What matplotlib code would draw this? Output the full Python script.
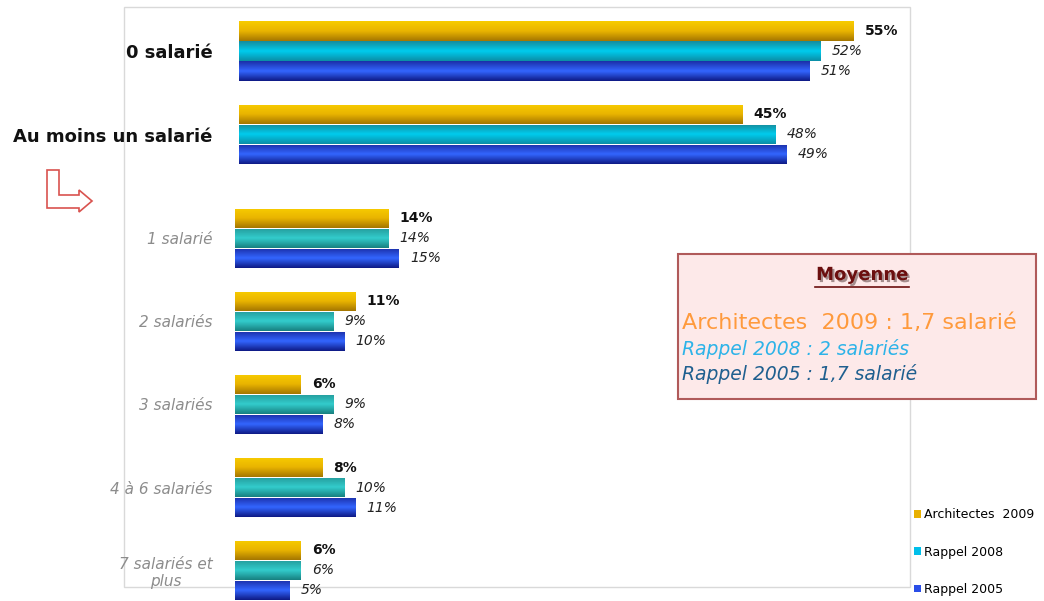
import matplotlib
matplotlib.use("Agg")
import matplotlib.pyplot as plt
import numpy as np
from matplotlib.colors import LinearSegmentedColormap
from matplotlib.patches import Patch, Polygon, Rectangle
from matplotlib.lines import Line2D
import matplotlib.patheffects as pe

# --- data -------------------------------------------------------------
series = ["Architectes  2009", "Rappel 2008", "Rappel 2005"]

top_categories = ["0 salarié", "Au moins un salarié"]
top_2009 = [55, 45]
top_2008 = [52, 48]
top_2005 = [51, 49]

detail_categories = ["1 salarié", "2 salariés", "3 salariés", "4 à 6 salariés",
                     "7 salariés et\nplus"]
detail_2009 = [14, 11, 6, 8, 6]
detail_2008 = [14, 9, 9, 10, 6]
detail_2005 = [15, 10, 8, 11, 5]

mean_title = "Moyenne"
mean_lines = ["Architectes  2009 : 1,7 salarié",
              "Rappel 2008 : 2 salariés",
              "Rappel 2005 : 1,7 salarié"]

# --- styles -----------------------------------------------------------
W, H = 1044, 601
YELLOW = ["#F8CC00", "#E9B400", "#A47600"]
CYAN = ["#158C9C", "#00CCEE", "#0B8EA6"]
TEAL = ["#249C9C", "#33CCCC", "#178080"]
BLUE = ["#1B2FA8", "#3366FF", "#0E1A85"]


def px_axes(fig, left, top, width, height):
    return fig.add_axes([left / W, 1 - (top + height) / H, width / W, height / H])


def fill_gradient(ax, bars, stops):
    cmap = LinearSegmentedColormap.from_list("g", stops)
    grad = np.linspace(0, 1, 64).reshape(-1, 1)
    for bar in bars:
        x0, y0 = bar.get_x(), bar.get_y()
        w, h = bar.get_width(), bar.get_height()
        im = ax.imshow(grad, extent=(x0, x0 + w, y0 + h, y0), aspect="auto",
                       cmap=cmap, zorder=3, interpolation="bilinear")
        im.set_clip_path(bar)


def grouped_bars(ax, cats, values, colors, h, pad_pts, label_size, cat_style):
    y = np.arange(len(cats))
    offsets = [-h, 0, h]
    for k, (vals, col) in enumerate(zip(values, colors)):
        bars = ax.barh(y + offsets[k], vals, height=h * 0.96, color=col[1],
                       edgecolor="none", zorder=2)
        fill_gradient(ax, bars, col)
        if k == 0:
            ax.bar_label(bars, fmt="%d%%", padding=8, fontsize=label_size,
                         fontweight="bold", color="#111111")
        else:
            ax.bar_label(bars, fmt="%d%%", padding=8, fontsize=label_size,
                         fontstyle="italic", color="#222222")
    ax.set_yticks(y)
    ax.set_yticklabels(cats, **cat_style)
    ax.tick_params(axis="y", length=0, pad=pad_pts)
    ax.set_xticks([])
    for s in ax.spines.values():
        s.set_visible(False)
    ax.patch.set_alpha(0)


fig = plt.figure(figsize=(W / 100, H / 100), dpi=100)

# light frame of the original chart area
fig.patches.append(Rectangle((124 / W, 1 - 587 / H), (910 - 124) / W, (587 - 7) / H,
                             transform=fig.transFigure, fill=False,
                             edgecolor="#D9D9D9", lw=1, zorder=-1))

# top chart: 0 / at least one employee
ax1 = px_axes(fig, 239, 9.25, 661, 167)
grouped_bars(ax1, top_categories, [top_2009, top_2008, top_2005],
             [YELLOW, CYAN, BLUE], 20 / 83.5, 19, 10,
             dict(fontsize=13, fontweight="bold", color="#111111"))
ax1.set_xlim(0, 661 / 11.18)
ax1.set_ylim(1.5, -0.5)

# detail chart
ax2 = px_axes(fig, 235, 197, 661, 415)
grouped_bars(ax2, detail_categories, [detail_2009, detail_2008, detail_2005],
             [YELLOW, TEAL, BLUE], 20 / 83, 16, 10,
             dict(fontsize=11, fontstyle="italic", color="#8C8C8C"))
for lab in ax2.get_yticklabels():
    lab.set_multialignment("center")
ax2.set_xlim(0, 661 / 10.93)
ax2.set_ylim(4.5, -0.5)

# red arrow
arrow_px = [(47, 170), (59, 170), (59, 195), (79, 195), (79, 190), (92, 201),
            (79, 212), (79, 208), (47, 208)]
fig.patches.append(Polygon([(x / W, 1 - y / H) for x, y in arrow_px], closed=True,
                           transform=fig.transFigure, facecolor="white",
                           edgecolor="#D9534F", lw=1.2))

# mean box
fig.patches.append(Rectangle((678 / W, 1 - 399 / H), (1036 - 678) / W, (399 - 254) / H,
                             transform=fig.transFigure, facecolor="#FDE9E9",
                             edgecolor="#B05A5A", lw=1.5, zorder=5))
fig.text(862 / W, 1 - 275 / H, mean_title, ha="center", va="center",
         fontsize=13, fontweight="bold", color="#6B0F0F", zorder=6,
         path_effects=[pe.SimplePatchShadow(offset=(1.5, -1.5), alpha=0.4),
                       pe.Normal()])
fig.lines.append(Line2D([815 / W, 909 / W], [1 - 287 / H, 1 - 287 / H],
                        transform=fig.transFigure, color="#6B0F0F", lw=1.2,
                        zorder=6))
fig.text(682 / W, 1 - 323 / H, mean_lines[0], ha="left", va="center",
         fontsize=16, color="#FF9A3C", zorder=6)
fig.text(682 / W, 1 - 349 / H, mean_lines[1], ha="left", va="center",
         fontsize=13.5, fontstyle="italic", color="#2DB3E8", zorder=6)
fig.text(682 / W, 1 - 374 / H, mean_lines[2], ha="left", va="center",
         fontsize=13.5, fontstyle="italic", color="#1F5F8F", zorder=6)

# legend
handles = [Patch(facecolor=c, edgecolor="none") for c in ["#E8B000", "#00BFEA", "#2A4EE8"]]
fig.legend(handles, series, loc="upper left", bbox_to_anchor=(908 / W, 1 - 502 / H),
           frameon=False, fontsize=9, handlelength=0.55, handleheight=0.55,
           handletextpad=0.25, labelspacing=1.95, borderpad=0)

fig.savefig("out.png", dpi=100)
